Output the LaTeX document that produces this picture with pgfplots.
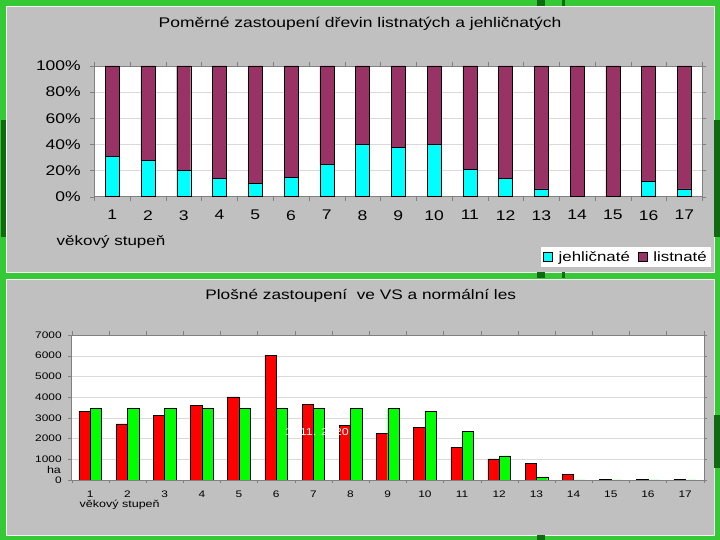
\documentclass[border=0pt]{standalone}
\usepackage{fontspec}
\setmainfont{Liberation Sans}[FakeStretch=1.25]
\usepackage{pgfplots}
\pgfplotsset{compat=1.18}
\definecolor{bggreen}{HTML}{36C936}
\definecolor{darkgr}{HTML}{0F6A12}
\definecolor{panel}{HTML}{C0C0C0}
\definecolor{jehl}{HTML}{00FFFF}
\definecolor{list}{HTML}{993366}
\definecolor{vsred}{HTML}{FF0000}
\definecolor{nlgreen}{HTML}{00FF00}
\definecolor{gridc}{HTML}{D9D9D9}
\definecolor{framec}{HTML}{808080}
\begin{document}
\begin{tikzpicture}
% background
\fill[bggreen] (0pt,0pt) rectangle (720pt,540pt);
\fill[panel] (6.5pt,268pt) rectangle (714pt,534pt);
\draw[white!85!panel,line width=0.8pt] (6.5pt,268pt) rectangle (714pt,534pt);
\fill[panel] (6.5pt,5pt) rectangle (714pt,261pt);
\draw[white!85!panel,line width=0.8pt] (6.5pt,5pt) rectangle (714pt,261pt);
\fill[darkgr] (1pt,303pt) rectangle (6pt,420pt);
\fill[darkgr] (714pt,303pt) rectangle (720pt,420pt);
\fill[darkgr] (714pt,72pt) rectangle (720pt,125pt);
\fill[darkgr] (537pt,534pt) rectangle (545pt,540pt);
\fill[darkgr] (562pt,534pt) rectangle (564.5pt,540pt);
\fill[darkgr] (537pt,262pt) rectangle (545pt,268pt);
\fill[darkgr] (562pt,262pt) rectangle (564.5pt,268pt);
\fill[darkgr] (537pt,0pt) rectangle (545pt,5pt);

% titles and labels
\node[font=\fontsize{14}{16}\selectfont] at (360pt,516pt) {Poměrné zastoupení dřevin listnatých a jehličnatých};
\node[font=\fontsize{13.8}{16}\selectfont] at (360.7pt,244.3pt) {Plošné zastoupení\ \ ve VS a normální les};
\node[font=\fontsize{13.6}{15}\selectfont] at (111pt,298pt) {věkový stupeň};
\node[font=\fontsize{10}{12}\selectfont] at (119.7pt,35pt) {věkový stupeň};
\node[font=\fontsize{10}{12}\selectfont] at (54pt,70pt) {ha};

% ---------- top chart ----------
\begin{axis}[
  at={(94.3pt,343.3pt)}, anchor=south west,
  scale only axis, width=608pt, height=130.7pt,
  ybar stacked, bar width=14pt,
  xmin=0.5, xmax=17.5, ymin=0, ymax=100,
  xtick={1,...,17}, ytick={0,20,...,100},
  minor xtick={0.5,1.5,...,17.5},
  major x tick style={draw=none},
  tick align=outside,
  major tick length=4pt, minor tick length=4pt,
  tick style={framec},
  ymajorgrids, grid style={gridc},
  axis line style={framec},
  axis background/.style={fill=white},
  yticklabel={\pgfmathprintnumber{\tick}\%},
  /pgf/number format/assume math mode=true,
  ticklabel style={font=\fontsize{14}{16}\selectfont},
  xticklabel style={yshift=-6pt},
  yticklabel style={xshift=-6pt},
  legend columns=2,
  legend style={at={(1.0143,-0.385)}, anchor=north east, draw=none, fill=white,
    font=\fontsize{13.5}{15}\selectfont, inner sep=2pt,
    /tikz/every odd column/.append style={column sep=1pt},
    /tikz/every even column/.append style={column sep=6pt}},
  legend image code/.code={\draw[#1,draw=black] (0pt,-4.5pt) rectangle (9pt,4.5pt);},
]
\addplot[fill=jehl, draw=black] coordinates {
 (1,31) (2,28) (3,20) (4,14) (5,10) (6,15) (7,25) (8,40) (9,38) (10,40)
 (11,21) (12,14) (13,6) (14,0.5) (15,0) (16,12) (17,6)};
\addplot[fill=list, draw=black] coordinates {
 (1,69) (2,72) (3,80) (4,86) (5,90) (6,85) (7,75) (8,60) (9,62) (10,60)
 (11,79) (12,86) (13,94) (14,99.5) (15,100) (16,88) (17,94)};
\legend{\hspace{3pt}jehličnaté, \hspace{3pt}listnaté}
\end{axis}

% ---------- bottom chart ----------
\begin{axis}[
  at={(71.7pt,60pt)}, anchor=south west,
  scale only axis, width=632pt, height=145pt,
  ybar=0pt, bar width=11.3pt,
  xmin=0.5, xmax=17.5, ymin=0, ymax=7000,
  xtick={1,...,17}, ytick={0,1000,...,7000},
  minor xtick={0.5,1.5,...,17.5},
  major x tick style={draw=none},
  tick align=outside,
  major tick length=3.5pt, minor tick length=3.5pt,
  tick style={framec},
  ymajorgrids, grid style={gridc},
  axis line style={framec},
  axis background/.style={fill=white},
  scaled y ticks=false,
  /pgf/number format/1000 sep={},
  /pgf/number format/assume math mode=true,
  ticklabel style={font=\fontsize{9.5}{11}\selectfont},
  xticklabel style={yshift=-4pt},
  yticklabel style={xshift=-3pt},
]
\addplot[fill=vsred, draw=black] coordinates {
 (1,3320) (2,2710) (3,3130) (4,3610) (5,4016) (6,6030) (7,3645) (8,2630)
 (9,2240) (10,2530) (11,1580) (12,1016) (13,790) (14,260) (15,30) (16,30) (17,30)};
\addplot[fill=nlgreen, draw=black] coordinates {
 (1,3450) (2,3450) (3,3450) (4,3450) (5,3450) (6,3450) (7,3450) (8,3450)
 (9,3450) (10,3320) (11,2340) (12,1160) (13,145) (14,0) (15,0) (16,0) (17,0)};
\node[white, anchor=east, font=\fontsize{10}{12}\selectfont] at (axis cs:8.05,2300) {1. 11. 2020};
\end{axis}
\end{tikzpicture}
\end{document}
